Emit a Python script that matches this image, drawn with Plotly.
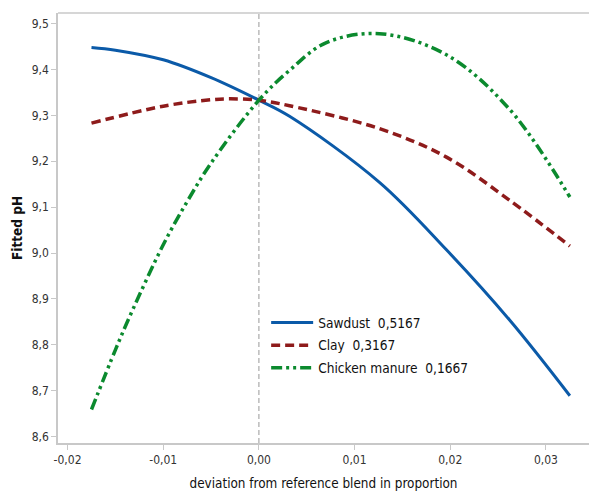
import plotly.graph_objects as go

# Data
saw_x = [-0.0175, -0.015, -0.01, -0.005, 0.0, 0.0032, 0.0126, 0.0196, 0.0262, 0.0325]
saw_y = [9.448, 9.442, 9.421, 9.382, 9.333, 9.298, 9.154, 9.007, 8.854, 8.689]

clay_x = [-0.0175, -0.01, -0.005, -0.003, 0.0, 0.0032, 0.0126, 0.0196, 0.0262, 0.0325]
clay_y = [9.283, 9.320, 9.334, 9.336, 9.333, 9.321, 9.271, 9.209, 9.115, 9.015]

chick_x = [-0.0175, -0.015, -0.0135, -0.01, -0.0075, -0.005, 0.0, 0.0032, 0.007, 0.0126, 0.0196, 0.0262, 0.0325]
chick_y = [8.659, 8.789, 8.862, 9.018, 9.112, 9.196, 9.333, 9.398, 9.458, 9.478, 9.432, 9.313, 9.122]

names = ["Sawdust  0,5167", "Clay  0,3167", "Chicken manure  0,1667"]
x_ticks = [-0.02, -0.01, 0.0, 0.01, 0.02, 0.03]
x_ticklabels = ["-0,02", "-0,01", "0,00", "0,01", "0,02", "0,03"]
y_ticks = [8.6, 8.7, 8.8, 8.9, 9.0, 9.1, 9.2, 9.3, 9.4, 9.5]
y_ticklabels = ["8,6", "8,7", "8,8", "8,9", "9,0", "9,1", "9,2", "9,3", "9,4", "9,5"]

FONT = "DejaVu Sans Condensed, sans-serif"

fig = go.Figure()
fig.add_trace(go.Scatter(x=saw_x, y=saw_y, mode="lines", name=names[0], legendgroup="a",
                         line=dict(color="#0b5aa8", width=3, shape="spline")))
fig.add_trace(go.Scatter(x=clay_x, y=clay_y, mode="lines", name=names[1], legendgroup="b",
                         line=dict(color="#8e1b1b", width=3.5, shape="spline", dash="9px,5px")))
fig.add_trace(go.Scatter(x=chick_x, y=chick_y, mode="lines", name=names[2], legendgroup="c",
                         line=dict(color="#0b8a2e", width=3.5, shape="spline",
                                   dash="11px,4px,3px,4px,3px,4px")))

# vertical reference line at 0
fig.add_shape(type="line", x0=0, x1=0, y0=0, y1=1, xref="x", yref="paper",
              line=dict(color="#999999", width=1, dash="5px,3px"), layer="below")
# top border
fig.add_shape(type="line", x0=0, x1=1, y0=1, y1=1, xref="paper", yref="paper",
              line=dict(color="#c8c8c8", width=1.5))

axis_font = dict(family=FONT, size=12, color="#333333")
fig.update_layout(
    width=589, height=491,
    margin=dict(l=58, r=0, t=13, b=48),
    paper_bgcolor="white", plot_bgcolor="white",
    showlegend=True,
    legend=dict(x=0.392, y=0.316, xanchor="left", yanchor="top", itemwidth=42,
                font=dict(family=FONT, size=13.6, color="#111111"),
                bgcolor="rgba(0,0,0,0)", tracegroupgap=2),
    xaxis=dict(range=[-0.0210, 0.0345], tickvals=x_ticks, ticktext=x_ticklabels,
               showgrid=False, zeroline=False, showline=True, linecolor="#c8c8c8",
               linewidth=1.5, ticks="outside", ticklen=5, tickcolor="#c8c8c8",
               tickfont=axis_font, automargin=False,
               title=dict(text="deviation from reference blend in proportion",
                          font=dict(family=FONT, size=13.4, color="#111111"),
                          standoff=12)),
    yaxis=dict(range=[8.586, 9.523], tickvals=y_ticks, ticktext=y_ticklabels,
               showgrid=False, zeroline=False, showline=True, linecolor="#c8c8c8",
               linewidth=1.5, ticks="outside", ticklen=5, tickcolor="#c8c8c8",
               tickfont=axis_font, automargin=False,
               title=dict(text="<b>Fitted pH</b>",
                          font=dict(family=FONT, size=13.5, color="#111111"),
                          standoff=6)),
)

fig.write_html("out.html", config={"displayModeBar": False},
               post_script="document.body.style.margin='0px';")
